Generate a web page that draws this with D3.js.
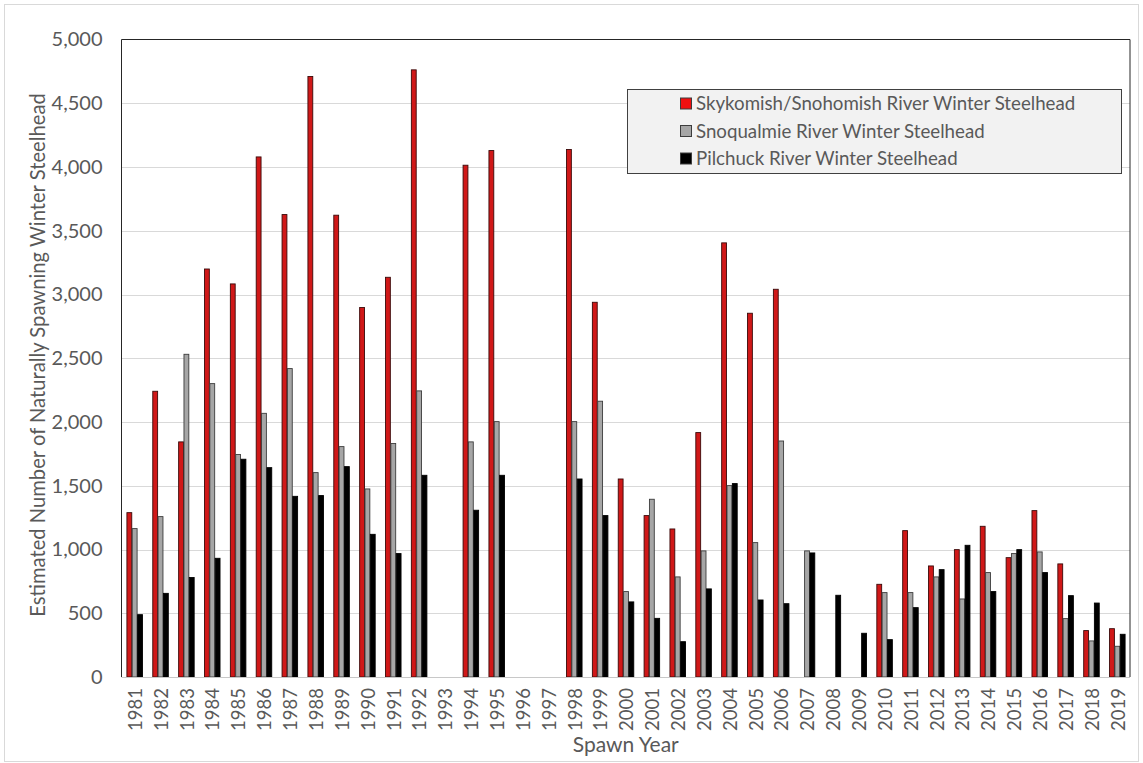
<!DOCTYPE html>
<html lang="en">
<head>
<meta charset="UTF-8">
<title>Winter Steelhead</title>
<style>
    body { margin: 0; background: #fff; }
    svg text { font-family: "Lato", "Open Sans", sans-serif; fill: #595959; }
</style>
</head>
<body>
<svg id="chart" width="1143" height="763"></svg>
<script src="https://d3js.org/d3.v7.min.js"></script>
<script>
    // spawn years (category axis)
    const years = ["1981", "1982", "1983", "1984", "1985", "1986", "1987", "1988", "1989", "1990",
        "1991", "1992", "1993", "1994", "1995", "1996", "1997", "1998", "1999", "2000",
        "2001", "2002", "2003", "2004", "2005", "2006", "2007", "2008", "2009", "2010",
        "2011", "2012", "2013", "2014", "2015", "2016", "2017", "2018", "2019"];

    const seriesNames = ["Skykomish/Snohomish River Winter Steelhead",
        "Snoqualmie River Winter Steelhead",
        "Pilchuck River Winter Steelhead"];

    // null = no estimate for that year
    const skykomish = [1289, 2241, 1844, 3200, 3083, 4079, 3627, 4710, 3622, 2898, 3135, 4762, null,
        4014, 4129, null, null, 4137, 2939, 1553, 1266, 1161, 1917, 3405, 2853, 3041, null, null, null,
        727, 1148, 871, 999, 1182, 936, 1305, 887, 364, 379];
    const snoqualmie = [1164, 1258, 2531, 2301, 1745, 2068, 2419, 1603, 1807, 1475, 1831, 2244, null,
        1844, 2003, null, null, 2003, 2163, 670, 1394, 785, 989, 1501, 1054, 1851, 989, null, null,
        662, 662, 785, 612, 819, 968, 981, 458, 283, 241];
    const pilchuck = [489, 656, 780, 931, 1708, 1642, 1417, 1423, 1650, 1119, 968, 1582, null,
        1308, 1582, null, null, 1553, 1266, 589, 460, 277, 691, 1517, 604, 575, 973, 641, 343,
        293, 544, 842, 1033, 670, 999, 819, 638, 580, 335];

    const yTicks = [0, 500, 1000, 1500, 2000, 2500, 3000, 3500, 4000, 4500, 5000];

    const fills = ["#d01818", "#a6a6a6", "#000000"];
    const strokes = ["#3a0a0a", "#3c3c3c", "#000000"];
    const legendFills = ["#f01010", "#a6a6a6", "#000000"];

    const allValues = [skykomish, snoqualmie, pilchuck];

    const margin = {left: 121.5, right: 13, top: 39.5, bottom: 86};
    const W = 1143, H = 763;

    const svg = d3.select("#chart");

    // outer frame
    svg.append("rect")
        .attr("x", 4.5).attr("y", 4.5)
        .attr("width", W - 9).attr("height", H - 6)
        .attr("fill", "none").attr("stroke", "#d9d9d9");

    const x0 = d3.scaleBand()
        .domain(years)
        .range([margin.left, W - margin.right])
        .paddingInner(0.38)
        .paddingOuter(0.19);

    const x1 = d3.scaleBand()
        .domain(seriesNames)
        .range([0, x0.bandwidth()]);

    const y = d3.scaleLinear()
        .domain([0, 5000])
        .range([H - margin.bottom, margin.top]);

    // gridlines
    svg.append("g")
        .selectAll("line")
        .data(yTicks.slice(1, -1))
        .join("line")
        .attr("x1", margin.left).attr("x2", W - margin.right)
        .attr("y1", d => Math.round(y(d)) + 0.5).attr("y2", d => Math.round(y(d)) + 0.5)
        .attr("stroke", "#d9d9d9");

    // y axis labels
    const yAxis = svg.append("g")
        .attr("transform", `translate(${margin.left},0)`)
        .call(d3.axisLeft(y).tickValues(yTicks).tickFormat(d3.format(",")).tickSize(0).tickPadding(19));
    yAxis.select(".domain").remove();
    yAxis.selectAll("text")
        .style("font-size", "20px")
        .attr("fill", "#595959");

    // bars
    const table = years.map((yr, i) => ({
        year: yr,
        vals: seriesNames.map((s, j) => ({name: s, idx: j, value: allValues[j][i]}))
    }));

    svg.append("g")
        .selectAll("g")
        .data(table)
        .join("g")
        .attr("transform", d => `translate(${x0(d.year)},0)`)
        .selectAll("rect")
        .data(d => d.vals.filter(v => v.value !== null))
        .join("rect")
        .attr("x", d => x1(d.name) + 0.5)
        .attr("y", d => y(d.value))
        .attr("width", x1.bandwidth() - 0.5)
        .attr("height", d => y(0) - y(d.value))
        .attr("fill", d => fills[d.idx])
        .attr("stroke", d => strokes[d.idx])
        .attr("stroke-width", 0.9);

    // plot border
    const pTop = margin.top, pBot = H - margin.bottom, pLeft = margin.left, pRight = W - margin.right;
    svg.append("line").attr("x1", pLeft).attr("x2", pRight).attr("y1", pTop).attr("y2", pTop)
        .attr("stroke", "#262626");
    svg.append("line").attr("x1", pRight).attr("x2", pRight).attr("y1", pTop).attr("y2", pBot)
        .attr("stroke", "#262626");
    svg.append("line").attr("x1", pLeft).attr("x2", pLeft).attr("y1", pTop).attr("y2", pBot)
        .attr("stroke", "#262626");
    svg.append("line").attr("x1", pLeft).attr("x2", pRight).attr("y1", pBot + 0.5).attr("y2", pBot + 0.5)
        .attr("stroke", "#c8c8c8");

    // x axis labels (rotated)
    const xAxis = svg.append("g")
        .attr("transform", `translate(0,${pBot})`)
        .call(d3.axisBottom(x0).tickSize(0).tickPadding(0));
    xAxis.select(".domain").remove();
    xAxis.selectAll("text")
        .attr("transform", "rotate(-90)")
        .attr("text-anchor", "end")
        .attr("x", -11)
        .attr("y", 0)
        .attr("dy", "0.35em")
        .attr("dx", 0)
        .style("font-size", "18.5px")
        .attr("fill", "#595959");
    xAxis.selectAll(".tick").attr("transform", d => `translate(${x0(d) + x0.bandwidth() / 2 + 1},0)`);

    // axis titles
    svg.append("text")
        .attr("x", (pLeft + pRight) / 2)
        .attr("y", 752)
        .attr("text-anchor", "middle")
        .style("font-size", "21px")
        .text("Spawn Year");

    svg.append("text")
        .attr("transform", `translate(45,355) rotate(-90)`)
        .attr("text-anchor", "middle")
        .style("font-size", "20.2px")
        .text("Estimated Number of Naturally Spawning Winter Steelhead");

    // legend
    const lg = svg.append("g");
    lg.append("rect")
        .attr("x", 627.5).attr("y", 89.5)
        .attr("width", 494).attr("height", 84)
        .attr("fill", "#f2f2f2").attr("stroke", "#404040");
    const rows = lg.selectAll("g.row")
        .data(seriesNames)
        .join("g")
        .attr("class", "row")
        .attr("transform", (d, i) => `translate(680,${103.5 + i * 27.5})`);
    rows.append("rect")
        .attr("x", 0.5).attr("y", -5.5)
        .attr("width", 11).attr("height", 11)
        .attr("fill", (d, i) => legendFills[i])
        .attr("stroke", "#3c3c3c");
    rows.append("text")
        .attr("x", 16)
        .attr("dy", "0.35em")
        .style("font-size", "18.7px")
        .text(d => d);
</script>
</body>
</html>
